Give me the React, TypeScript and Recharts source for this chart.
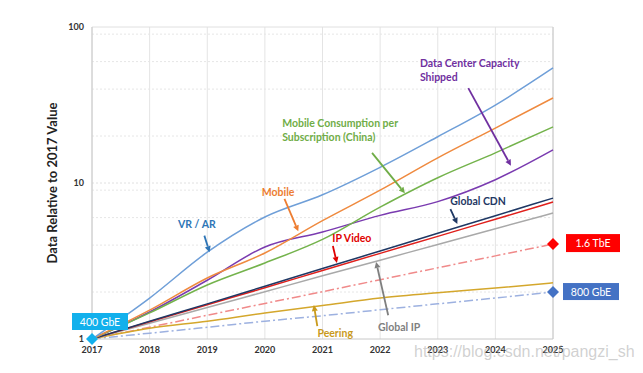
import { LineChart, Line, XAxis, YAxis, CartesianGrid, ReferenceLine, ReferenceDot } from 'recharts'

// values are relative to 2017 (= 1)
const years = [2017, 2018, 2019, 2020, 2021, 2022, 2023, 2024, 2025]
const vrAr = [1, 1.83, 3.6, 6.05, 8.4, 12.6, 19.8, 31.6, 54.6]
const mobile = [1, 1.53, 2.46, 3.56, 5.74, 9.0, 14.5, 22.5, 35.1]
const mobileChina = [1, 1.47, 2.22, 3.07, 4.35, 7.0, 10.8, 15.6, 22.9]
const dataCenter = [1, 1.49, 2.38, 3.89, 4.85, 6.2, 7.6, 10.5, 16.3]
const globalCdn = [1, 1.3, 1.68, 2.18, 2.83, 3.67, 4.76, 6.17, 8.0]
const ipVideo = [1, 1.29, 1.66, 2.13, 2.75, 3.54, 4.55, 5.86, 7.55]
const globalIp = [1, 1.26, 1.59, 2.01, 2.54, 3.2, 4.04, 5.09, 6.42]
const tbe16 = [1, 1.19, 1.42, 1.69, 2.01, 2.4, 2.86, 3.41, 4.06]
const gbe800 = [1, 1.09, 1.19, 1.3, 1.41, 1.54, 1.68, 1.83, 2.0]
const peering = [1, 1.17, 1.3, 1.47, 1.64, 1.83, 1.98, 2.12, 2.29]

const yTicks = [1, 10, 100]
const minorGrid = [2, 3, 4, 5, 6, 7, 8, 9, 20, 30, 40, 50, 60, 70, 80, 90]

const data = years.map((year, i) => ({
  year,
  vrAr: vrAr[i],
  mobile: mobile[i],
  mobileChina: mobileChina[i],
  dataCenter: dataCenter[i],
  globalCdn: globalCdn[i],
  ipVideo: ipVideo[i],
  globalIp: globalIp[i],
  tbe16: tbe16[i],
  gbe800: gbe800[i],
  peering: peering[i],
}))

const series = [
  { key: 'gbe800', color: '#9db1e0', dash: '9 3 2 3' },
  { key: 'tbe16', color: '#f08a8a', dash: '9 3 2 3' },
  { key: 'peering', color: '#d4a72c' },
  { key: 'globalIp', color: '#a9a9a9' },
  { key: 'ipVideo', color: '#e0201c' },
  { key: 'globalCdn', color: '#1f3864' },
  { key: 'dataCenter', color: '#7a3bb0' },
  { key: 'mobileChina', color: '#74b34c' },
  { key: 'mobile', color: '#ef8a3f' },
  { key: 'vrAr', color: '#6f9fd8' },
]

type Note = {
  lines: string[]
  x: number
  y: number
  color: string
  anchor: 'start' | 'middle'
  arrow: [number, number, number, number]
}

const notes: Note[] = [
  { lines: ['VR / AR'], x: 2018.82, y: 5.46, color: '#2e75b6', anchor: 'middle', arrow: [2018.95, 4.6, 2019.04, 3.6] },
  { lines: ['Mobile'], x: 2020.23, y: 8.77, color: '#ed7d31', anchor: 'middle', arrow: [2020.34, 7.9, 2020.58, 4.9] },
  { lines: ['Mobile Consumption per', 'Subscription (China)'], x: 2020.3, y: 21.8, color: '#70ad47', anchor: 'start', arrow: [2021.86, 15.6, 2022.43, 8.6] },
  { lines: ['Data Center Capacity', 'Shipped'], x: 2022.69, y: 52.9, color: '#7030a0', anchor: 'start', arrow: [2023.53, 40.6, 2024.27, 12.9] },
  { lines: ['Global CDN'], x: 2023.7, y: 7.67, color: '#1f3864', anchor: 'middle', arrow: [2023.22, 6.8, 2023.34, 5.46] },
  { lines: ['IP Video'], x: 2021.51, y: 4.44, color: '#e00000', anchor: 'middle', arrow: [2021.18, 3.95, 2021.25, 3.07] },
  { lines: ['Peering'], x: 2021.22, y: 1.09, color: '#c99a1c', anchor: 'middle', arrow: [2020.91, 1.21, 2020.85, 1.65] },
  { lines: ['Global IP'], x: 2022.33, y: 1.19, color: '#7f7f7f', anchor: 'middle', arrow: [2022.14, 1.42, 2021.93, 3.12] },
]

const callouts = [
  { label: '400 GbE', x: 2017, y: 1, fill: '#12b0ec', dx: -20, dy: -26, w: 56, h: 17 },
  { label: '1.6 TbE', x: 2025, y: 4.06, fill: '#ff0000', dx: 13, dy: -10, w: 54, h: 18 },
  { label: '800 GbE', x: 2025, y: 2.0, fill: '#4472c4', dx: 10, dy: -9, w: 56, h: 17 },
]

const font = 'Lato, "Open Sans", sans-serif'

function arrowShape(color: string) {
  return (p: any) => {
    const { x1, y1, x2, y2 } = p
    const a = Math.atan2(y2 - y1, x2 - x1)
    const len = 6
    const hw = 3
    const bx = x2 - len * Math.cos(a)
    const by = y2 - len * Math.sin(a)
    const px = -Math.sin(a) * hw
    const py = Math.cos(a) * hw
    return (
      <g>
        <line x1={x1} y1={y1} x2={bx} y2={by} stroke={color} strokeWidth={1.8} />
        <polygon points={`${x2},${y2} ${bx + px},${by + py} ${bx - px},${by - py}`} fill={color} />
      </g>
    )
  }
}

function noteShape(n: Note) {
  return (p: any) => (
    <text
      x={p.cx}
      y={p.cy - ((n.lines.length - 1) * 14) / 2}
      fill={n.color}
      fontSize={10.5}
      fontWeight={700}
      fontFamily={font}
      textAnchor={n.anchor}
      dominantBaseline="central"
    >
      {n.lines.map((l, i) => (
        <tspan key={i} x={p.cx} dy={i === 0 ? 0 : 14}>
          {l}
        </tspan>
      ))}
    </text>
  )
}

function calloutShape(c: (typeof callouts)[number]) {
  return (p: any) => {
    const { cx, cy } = p
    const d = 6
    return (
      <g>
        <rect x={cx + c.dx} y={cy + c.dy} width={c.w} height={c.h} fill={c.fill} />
        <text
          x={cx + c.dx + c.w / 2}
          y={cy + c.dy + c.h / 2}
          fill="#fff"
          fontSize={10.5}
          fontFamily={font}
          textAnchor="middle"
          dominantBaseline="central"
        >
          {c.label}
        </text>
        <polygon points={`${cx},${cy - d} ${cx + d},${cy} ${cx},${cy + d} ${cx - d},${cy}`} fill={c.fill} />
      </g>
    )
  }
}

export default function App() {
  return (
    <div style={{ position: 'absolute', left: 0, top: 0, width: 643, height: 373, background: '#fff' }}>
      <LineChart width={643} height={373} data={data} margin={{ top: 27, right: 90, bottom: 0, left: 12 }}>
        <CartesianGrid horizontal={false} stroke="#e4e4e4" verticalValues={years} />
        <CartesianGrid vertical={false} stroke="#e6e6e6" strokeDasharray="2 2" horizontalValues={minorGrid} />
        <XAxis
          dataKey="year"
          type="number"
          domain={[2017, 2025]}
          ticks={years}
          tickLine={false}
          axisLine={{ stroke: '#c8c8c8' }}
          height={34}
          tick={{ fontSize: 9, fontWeight: 700, fill: '#333', fontFamily: font }}
        />
        <YAxis
          scale="log"
          type="number"
          domain={[1, 100]}
          ticks={yTicks}
          allowDataOverflow
          width={80}
          tickLine={false}
          axisLine={{ stroke: '#c8c8c8' }}
          tick={{ fontSize: 9, fontWeight: 700, fill: '#333', fontFamily: font }}
          label={{
            value: 'Data Relative to 2017 Value',
            angle: -90,
            position: 'center',
            fontSize: 13,
            fontWeight: 700,
            fill: '#222',
            fontFamily: font,
          }}
        />
        <ReferenceLine y={100} stroke="#e0e0e0" />
        <ReferenceLine y={10} stroke="#e0e0e0" strokeDasharray="2 2" />
        <ReferenceLine x={2025} stroke="#c8c8c8" />
        {series.map((s) => (
          <Line
            key={s.key}
            dataKey={s.key}
            type="monotone"
            stroke={s.color}
            strokeWidth={1.5}
            strokeDasharray={s.dash}
            dot={false}
            isAnimationActive={false}
          />
        ))}
        {notes.map((n, i) => (
          <ReferenceLine
            key={'a' + i}
            segment={[
              { x: n.arrow[0], y: n.arrow[1] },
              { x: n.arrow[2], y: n.arrow[3] },
            ]}
            ifOverflow="visible"
            shape={arrowShape(n.color)}
          />
        ))}
        {notes.map((n, i) => (
          <ReferenceDot key={'n' + i} x={n.x} y={n.y} r={0} ifOverflow="visible" shape={noteShape(n)} />
        ))}
        {callouts.map((c, i) => (
          <ReferenceDot key={'c' + i} x={c.x} y={c.y} r={0} ifOverflow="visible" shape={calloutShape(c)} />
        ))}
      </LineChart>
      <div
        style={{
          position: 'absolute',
          left: 414,
          top: 343,
          fontSize: 16,
          fontFamily: '"Liberation Sans", Arial, sans-serif',
          color: 'rgba(170,170,170,0.55)',
          whiteSpace: 'nowrap',
        }}
      >
        https://blog.csdn.net/pangzi_sh
      </div>
    </div>
  )
}
